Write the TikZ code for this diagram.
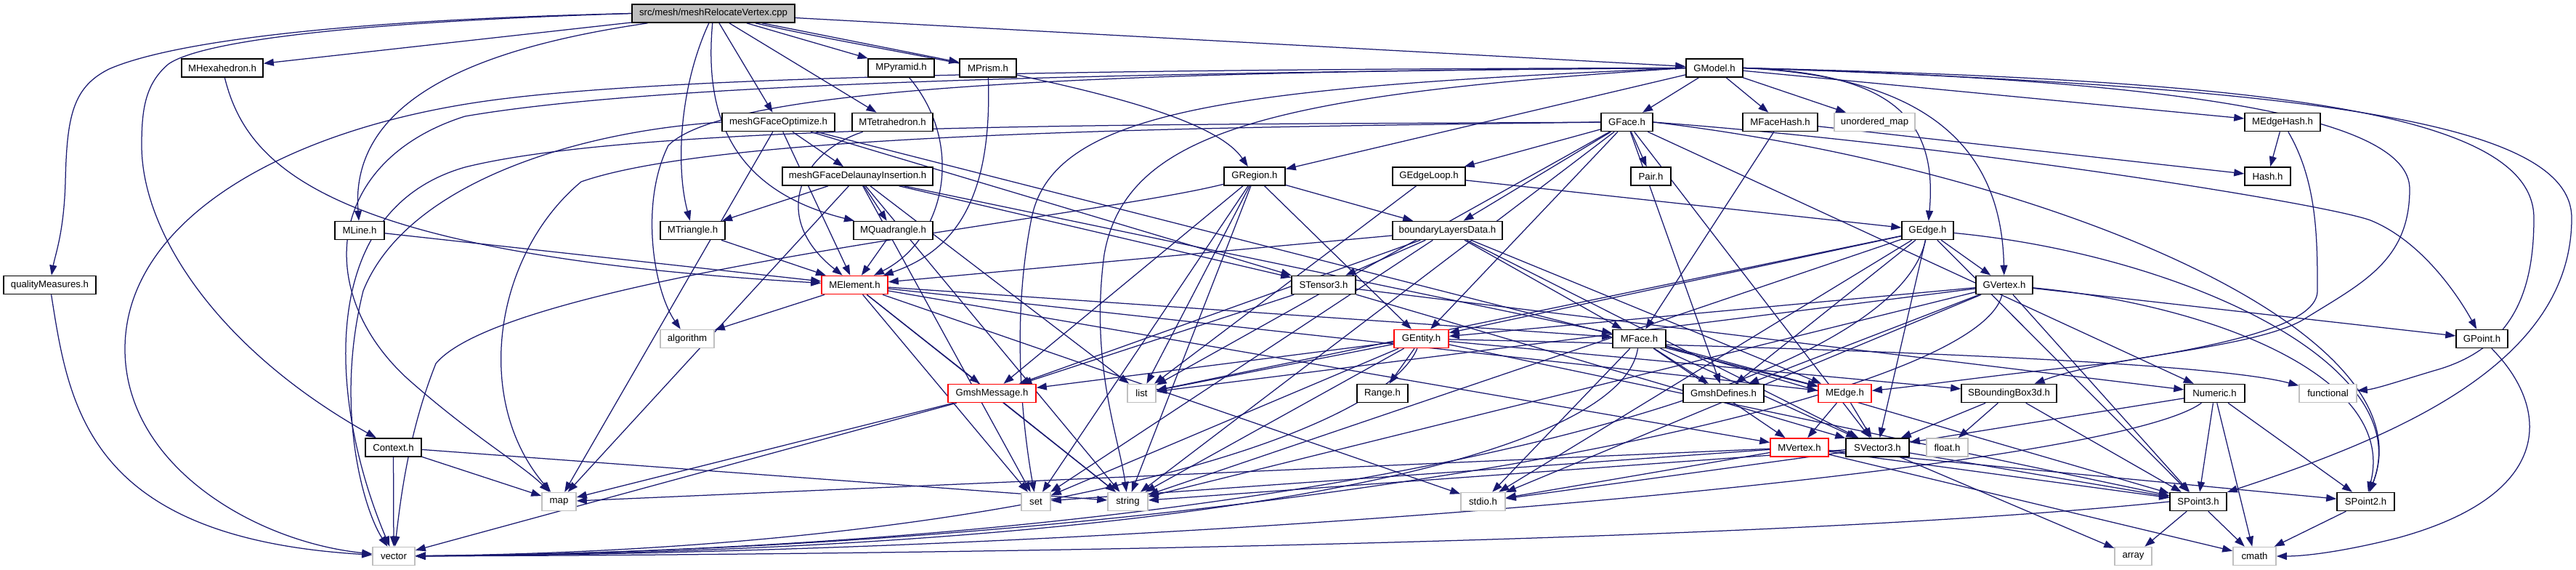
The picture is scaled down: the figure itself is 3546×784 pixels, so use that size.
\documentclass[tikz,border=0pt]{standalone}
\usepackage{fontspec}
\setmainfont{Liberation Sans}
\usetikzlibrary{arrows.meta}
\definecolor{edgec}{HTML}{191970}
\definecolor{grayb}{HTML}{BFBFBF}
\pgfdeclarelayer{bg}
\pgfdeclarelayer{paper}
\pgfsetlayers{paper,bg,main}
\begin{document}
\begin{tikzpicture}[x=1pt,y=-1pt,
  nb/.style={draw=black,line width=1.6pt,fill=white,minimum height=25pt,inner sep=0pt,font=\fontsize{13.2}{15}\selectfont},
  sb/.style={nb,draw=grayb},
  tb/.style={nb,draw=red},
  e/.style={draw=edgec,line width=1.25pt,-{Triangle[length=14pt,width=10pt]}}]
\begin{pgfonlayer}{paper}
\fill[white] (0,0) rectangle (3546,784);
\end{pgfonlayer}
\useasboundingbox (0,0) rectangle (3546,784);
% row 0
\node[nb,fill=grayb,minimum width=224pt] (root) at (982,18.5) {src/mesh/meshRelocateVertex.cpp};
% row 1
\node[nb,minimum width=112pt] (hex) at (306,93.5) {MHexahedron.h};
\node[nb,minimum width=91pt] (pyr) at (1240.5,93.5) {MPyramid.h};
\node[nb,minimum width=78pt] (prism) at (1360,93.5) {MPrism.h};
\node[nb,minimum width=78pt] (gmodel) at (2360,93.5) {GModel.h};
% row 2
\node[nb,minimum width=155pt] (mgfo) at (1071.5,168) {meshGFaceOptimize.h};
\node[nb,minimum width=111pt] (tet) at (1228.5,168) {MTetrahedron.h};
\node[nb,minimum width=71pt] (gface) at (2239.5,168) {GFace.h};
\node[nb,minimum width=103pt] (mfh) at (2450.5,168) {MFaceHash.h};
\node[sb,minimum width=111pt] (umap) at (2580.5,168) {unordered\_map};
\node[nb,minimum width=104pt] (meh) at (3142,168) {MEdgeHash.h};
% row 3
\node[nb,minimum width=207pt] (mgfdi) at (1180.5,242.5) {meshGFaceDelaunayInsertion.h};
\node[nb,minimum width=84pt] (gregion) at (1727,242.5) {GRegion.h};
\node[nb,minimum width=100pt] (gel) at (1967,242.5) {GEdgeLoop.h};
\node[nb,minimum width=55pt] (pair) at (2272.5,242.5) {Pair.h};
\node[nb,minimum width=63pt] (hash) at (3121.5,242.5) {Hash.h};
% row 4
\node[nb,minimum width=68pt] (line) at (495,317) {MLine.h};
\node[nb,minimum width=89pt] (tri) at (953.5,317) {MTriangle.h};
\node[nb,minimum width=109pt] (quad) at (1229.5,317) {MQuadrangle.h};
\node[nb,minimum width=151pt] (bld) at (1992.5,317) {boundaryLayersData.h};
\node[nb,minimum width=71pt] (gedge) at (2653.5,317) {GEdge.h};
% row 5
\node[nb,minimum width=127pt] (qm) at (68.5,392) {qualityMeasures.h};
\node[tb,minimum width=91pt] (melem) at (1176.5,392) {MElement.h};
\node[nb,minimum width=88pt] (stensor) at (1822,392) {STensor3.h};
\node[nb,minimum width=78pt] (gvertex) at (2759,392) {GVertex.h};
% row 6
\node[sb,minimum width=74pt] (algo) at (946,466) {algorithm};
\node[tb,minimum width=75pt] (gentity) at (1956.5,466) {GEntity.h};
\node[nb,minimum width=73pt] (mface) at (2256.5,466) {MFace.h};
\node[nb,minimum width=71pt] (gpoint) at (3416.5,466) {GPoint.h};
% row 7
\node[tb,minimum width=121pt] (gmsg) at (1365.5,541) {GmshMessage.h};
\node[sb,minimum width=39pt] (list) at (1571.5,541) {list};
\node[nb,minimum width=70pt] (range) at (1903,541) {Range.h};
\node[nb,minimum width=111pt] (gdef) at (2372.5,541) {GmshDefines.h};
\node[tb,minimum width=73pt] (medge) at (2539.5,541) {MEdge.h};
\node[nb,minimum width=131pt] (sbb) at (2765.5,541) {SBoundingBox3d.h};
\node[nb,minimum width=83pt] (numeric) at (3048.5,541) {Numeric.h};
\node[sb,minimum width=79pt] (func) at (3204.5,541) {functional};
% row 8
\node[nb,minimum width=77pt] (ctx) at (541.5,615.5) {Context.h};
\node[tb,minimum width=80pt] (mvertex) at (2477,615.5) {MVertex.h};
\node[nb,minimum width=87pt] (svec) at (2584.5,615.5) {SVector3.h};
\node[sb,minimum width=57pt] (floath) at (2680.5,615.5) {float.h};
% row 9
\node[sb,minimum width=47pt] (map) at (769.5,690) {map};
\node[sb,minimum width=40pt] (set) at (1426,690) {set};
\node[sb,minimum width=55pt] (string) at (1552.5,690) {string};
\node[sb,minimum width=61pt] (stdio) at (2041.5,690) {stdio.h};
\node[nb,minimum width=78pt] (sp3) at (3026,690) {SPoint3.h};
\node[nb,minimum width=79pt] (sp2) at (3256.5,690) {SPoint2.h};
% row 10
\node[sb,minimum width=58pt] (vector) at (542,765) {vector};
\node[sb,minimum width=51pt] (array) at (2936.5,765) {array};
\node[sb,minimum width=59pt] (cmath) at (3103.5,765) {cmath};
\begin{pgfonlayer}{bg}
\foreach \s/\t in {root/hex,root/mgfo,root/tet,root/pyr,root/prism,root/gmodel,
 line/melem,tri/melem,quad/melem,
 ctx/vector,ctx/map,ctx/string,
 gmodel/gface,gmodel/mfh,gmodel/umap,gmodel/meh,gmodel/gregion,
 mgfo/mgfdi,mgfo/melem,mgfo/map,mgfo/stensor,mgfo/medge,
 mgfdi/tri,mgfdi/quad,mgfdi/stensor,mgfdi/set,mgfdi/map,mgfdi/string,mgfdi/list,mgfdi/mface,
 gface/gel,gface/pair,gface/bld,gface/gentity,gface/gdef,gface/svec,gface/numeric,gface/list,gface/string,
 gel/gedge,gel/list,
 gregion/bld,gregion/gentity,gregion/list,gregion/string,gregion/set,gregion/gmsg,
 bld/melem,bld/stensor,bld/gmsg,bld/set,bld/mface,bld/medge,bld/svec,
 gedge/gvertex,gedge/gentity,gedge/gdef,gedge/list,gedge/string,gedge/stdio,gedge/svec,gedge/sp3,
 gvertex/gentity,gvertex/gpoint,gvertex/sp3,gvertex/gdef,gvertex/list,gvertex/string,gvertex/stdio,
 gentity/range,gentity/list,gentity/string,gentity/set,gentity/gmsg,gentity/sbb,gentity/sp3,
 mfh/mface,mfh/hash,meh/hash,
 melem/algo,melem/set,melem/string,melem/gmsg,melem/mface,melem/medge,melem/mvertex,melem/stdio,
 stensor/svec,stensor/numeric,stensor/gmsg,
 mface/gdef,mface/mvertex,mface/svec,mface/medge,mface/stdio,mface/sp3,
 medge/mvertex,medge/svec,
 mvertex/map,mvertex/set,mvertex/stdio,mvertex/sp2,mvertex/sp3,mvertex/cmath,
 svec/sp3,svec/array,svec/string,svec/stdio,
 gmsg/map,gmsg/vector,gmsg/string,
 numeric/sp3,numeric/sp2,numeric/cmath,numeric/svec,
 sbb/floath,sbb/sp3,sbb/svec,
 sp3/array,sp3/cmath,sp2/cmath}
 \draw[e] (\s) -- (\t);
% curved routes
\draw[e] (root.west) .. controls (450,28) and (230,60) .. (150,95) .. controls (100,120) and (92,160) .. (90,250) .. controls (88,320) and (76,350) .. (qm);
\draw[e] (root.west) .. controls (500,30) and (280,55) .. (232,88) .. controls (200,115) and (195,150) .. (195,200) .. controls (195,320) and (300,480) .. (ctx);
\draw[e] (root) .. controls (700,60) and (480,120) .. (line);
\draw[e] (root) .. controls (1250,80) and (1650,130) .. (gregion);
\draw[e] (root) .. controls (935,120) and (930,230) .. (tri);
\draw[e] (root) .. controls (970,150) and (1000,260) .. (quad);
\draw[e] (hex) .. controls (340,230) and (450,350) .. (melem);
\draw[e] (pyr) .. controls (1330,200) and (1300,330) .. (melem);
\draw[e] (prism) .. controls (1365,250) and (1330,340) .. (melem);
\draw[e] (tet) .. controls (1100,210) and (1060,300) .. (melem);
\draw[e] (qm) .. controls (95,560) and (120,740) .. (vector);
\draw[e] (gmodel.west) .. controls (1500,95) and (950,105) .. (700,135) .. controls (400,170) and (172,300) .. (172,480) .. controls (172,640) and (350,745) .. (vector);
\draw[e] (gmodel.west) .. controls (1500,100) and (900,115) .. (640,160) .. controls (450,220) and (430,400) .. (560,520) .. controls (650,600) and (720,640) .. (map);
\draw[e] (gmodel.west) .. controls (1500,98) and (1000,120) .. (920,200) .. controls (880,280) and (900,400) .. (algo);
\draw[e] (gmodel.west) .. controls (1700,120) and (1450,150) .. (1420,300) .. controls (1390,450) and (1410,600) .. (set);
\draw[e] (gmodel.west) .. controls (1750,130) and (1550,180) .. (1520,350) .. controls (1500,500) and (1540,600) .. (string);
\draw[e] (gmodel.east) .. controls (2600,100) and (2668,160) .. (gedge);
\draw[e] (gmodel.east) .. controls (2650,105) and (2755,200) .. (gvertex);
\draw[e] (gmodel.east) .. controls (3200,120) and (3540,170) .. (3540,300) .. controls (3540,500) and (3300,600) .. (sp3);
\draw[e] (gmodel.east) .. controls (3100,110) and (3488,150) .. (3488,300) .. controls (3488,400) and (3460,480) .. (3350,510) .. controls (3300,525) and (3270,535) .. (func);
\draw[e] (gmodel.east) .. controls (3000,110) and (3317,160) .. (3317,260) .. controls (3317,360) and (3250,390) .. (3170,440) .. controls (3100,480) and (2900,490) .. (sbb);
\draw[e] (meh) .. controls (3190,250) and (3190,330) .. (3190,400) .. controls (3190,440) and (3100,470) .. (2900,500) .. controls (2750,515) and (2650,530) .. (medge);
\draw[e] (mgfo.west) .. controls (800,180) and (560,250) .. (500,400) .. controls (460,560) and (500,700) .. (vector);
\draw[e] (gface.west) .. controls (1700,172) and (900,165) .. (640,230) .. controls (430,290) and (455,560) .. (vector);
\draw[e] (gface.west) .. controls (1700,175) and (1000,180) .. (800,250) .. controls (680,350) and (650,550) .. (map);
\draw[e] (gface.east) .. controls (2700,200) and (3200,280) .. (3263,303) .. controls (3330,330) and (3380,400) .. (gpoint);
\draw[e] (gface.east) .. controls (2800,230) and (3350,450) .. (sp2);
\draw[e] (gedge) .. controls (3000,350) and (3330,500) .. (sp2);
\draw[e] (gvertex) .. controls (3050,420) and (3300,520) .. (sp2);
\draw[e] (gentity) .. controls (2600,480) and (3050,500) .. (func);
\draw[e] (gpoint) .. controls (3510,560) and (3520,680) .. (3300,740) .. controls (3220,760) and (3170,765) .. (cmath);
\draw[e] (gregion) .. controls (1500,300) and (700,380) .. (600,500) .. controls (560,600) and (550,700) .. (vector);
\draw[e] (sp3.west) .. controls (2500,740) and (1500,762) .. (vector);
\draw[e] (numeric) .. controls (2900,650) and (1600,760) .. (vector);
\draw[e] (gvertex) .. controls (2720,560) and (1700,755) .. (vector);
\draw[e] (gedge) .. controls (2600,560) and (1700,755) .. (vector);
\draw[e] (gentity) .. controls (1900,600) and (1400,755) .. (vector);
\draw[e] (mface) .. controls (2230,640) and (1600,758) .. (vector);
\end{pgfonlayer}
\end{tikzpicture}
\end{document}
